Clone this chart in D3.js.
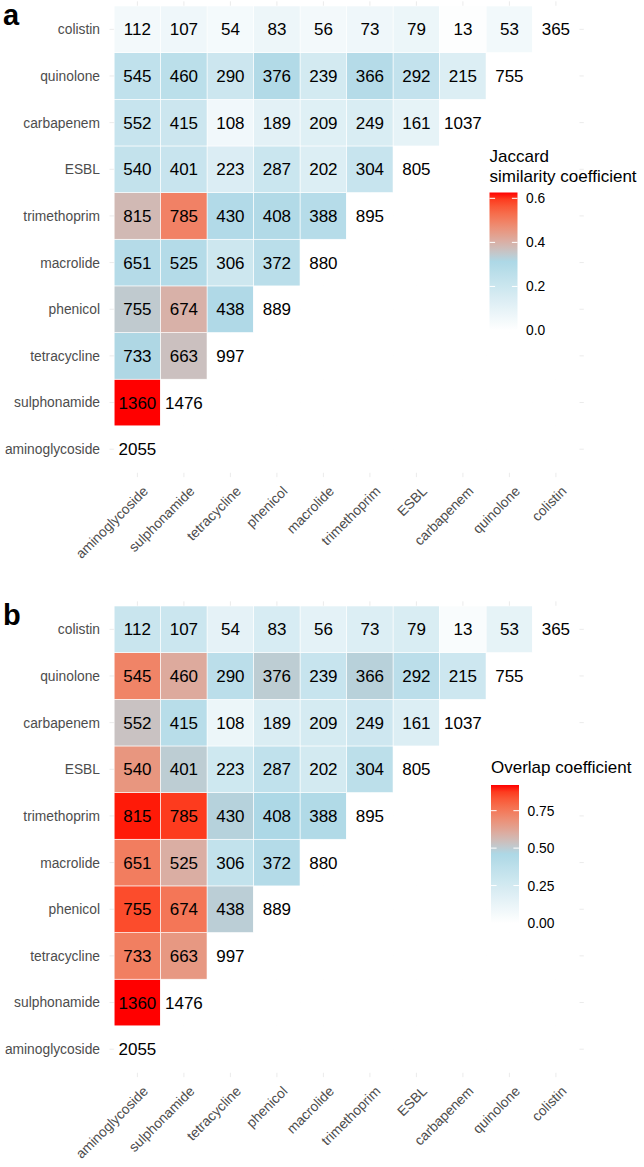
<!DOCTYPE html>
<html>
<head>
<meta charset="utf-8">
<script src="https://cdn.jsdelivr.net/npm/d3@7"></script>
<style>
  html, body { margin: 0; padding: 0; background: #fff; }
  svg { display: block; font-family: "Liberation Sans", Arial, Helvetica, sans-serif; }
</style>
</head>
<body>
<svg id="chart" width="644" height="1167"></svg>
<script>
// ---- data ----
const categories = ["aminoglycoside", "sulphonamide", "tetracycline", "phenicol", "macrolide",
                    "trimethoprim", "ESBL", "carbapenem", "quinolone", "colistin"];
// co-occurrence counts; each row lists columns from aminoglycoside up to the diagonal (total)
const rowAminoglycoside = [2055];
const rowSulphonamide   = [1360, 1476];
const rowTetracycline   = [733, 663, 997];
const rowPhenicol       = [755, 674, 438, 889];
const rowMacrolide      = [651, 525, 306, 372, 880];
const rowTrimethoprim   = [815, 785, 430, 408, 388, 895];
const rowESBL           = [540, 401, 223, 287, 202, 304, 805];
const rowCarbapenem     = [552, 415, 108, 189, 209, 249, 161, 1037];
const rowQuinolone      = [545, 460, 290, 376, 239, 366, 292, 215, 755];
const rowColistin       = [112, 107, 54, 83, 56, 73, 79, 13, 53, 365];
const jaccardTicks = [0, 0.2, 0.4, 0.6];
const overlapTicks = [0, 0.25, 0.5, 0.75];

const rows = [rowAminoglycoside, rowSulphonamide, rowTetracycline, rowPhenicol, rowMacrolide,
              rowTrimethoprim, rowESBL, rowCarbapenem, rowQuinolone, rowColistin];

const total = c => rows[categories.indexOf(c)][categories.indexOf(c)];
const cells = [];
categories.forEach((ry, j) => {
  categories.forEach((cx, i) => {
    const shown = i <= j;
    const n = shown ? rows[j][i] : null;
    let jac = 0, ovl = 0;
    if (i < j) {
      const a = total(cx), b = total(ry);
      jac = n / (a + b - n);
      ovl = n / Math.min(a, b);
    }
    cells.push({ col: cx, row: ry, n, shown, jac, ovl });
  });
});

const svg = d3.select("#chart");

const x = d3.scaleBand().domain(categories).range([114.15, 579.15]);
const yDom = categories.slice().reverse();

function drawPanel(offsetY, key, letter, titleLines, ticks, fmt, legendX, titleY, barTop) {
  const g = svg.append("g").attr("transform", `translate(0,${offsetY})`);
  const y = d3.scaleBand().domain(yDom).range([6, 472.5]);
  const maxV = d3.max(cells, d => d[key]);
  const color = d3.scaleLinear().domain([0, maxV / 2, maxV])
    .range(["#ffffff", "#add8e6", "#ff0000"]).interpolate(d3.interpolateLab);

  const exX = x.bandwidth() * 0.1, exY = y.bandwidth() * 0.1;
  const px0 = x.range()[0] - exX, px1 = x.range()[1] + exX;
  const py0 = y.range()[0] - exY, py1 = y.range()[1] + exY;

  // grid lines
  g.append("g").selectAll("line.v").data(categories).join("line")
    .attr("x1", d => x(d) + x.bandwidth() / 2).attr("x2", d => x(d) + x.bandwidth() / 2)
    .attr("y1", py0).attr("y2", py1).attr("stroke", "#ebebeb").attr("stroke-width", 1);
  g.append("g").selectAll("line.h").data(categories).join("line")
    .attr("y1", d => y(d) + y.bandwidth() / 2).attr("y2", d => y(d) + y.bandwidth() / 2)
    .attr("x1", px0).attr("x2", px1).attr("stroke", "#ebebeb").attr("stroke-width", 1);

  // tiles
  g.append("g").selectAll("rect").data(cells).join("rect")
    .attr("x", d => x(d.col)).attr("y", d => y(d.row))
    .attr("width", x.bandwidth()).attr("height", y.bandwidth())
    .attr("fill", d => color(d[key]))
    .attr("stroke", "#ffffff").attr("stroke-width", 0.6);

  // counts
  g.append("g").selectAll("text").data(cells.filter(d => d.shown)).join("text")
    .attr("x", d => x(d.col) + x.bandwidth() / 2)
    .attr("y", d => y(d.row) + y.bandwidth() / 2)
    .attr("dy", "0.36em").attr("text-anchor", "middle")
    .attr("font-size", 17).attr("fill", "#000")
    .text(d => d.n);

  // y axis labels
  g.append("g").selectAll("text").data(categories).join("text")
    .attr("x", 100).attr("y", d => y(d) + y.bandwidth() / 2)
    .attr("dy", "0.36em").attr("text-anchor", "end")
    .attr("font-size", 13.8).attr("fill", "#4d4d4d")
    .text(d => d);

  // x axis labels
  g.append("g").selectAll("text").data(categories).join("text")
    .attr("transform", d => `translate(${x(d) + x.bandwidth() / 2 + 4.5},${py1 + 8}) rotate(-45)`)
    .attr("dy", "0.71em").attr("text-anchor", "end")
    .attr("font-size", 13.8).attr("fill", "#4d4d4d")
    .text(d => d);

  // panel letter
  g.append("text").attr("x", 3).attr("y", 24.5)
    .attr("font-size", 29).attr("font-weight", "bold").attr("fill", "#000")
    .text(letter);

  // legend
  const lg = g.append("g");
  lg.selectAll("text.title").data(titleLines).join("text")
    .attr("x", legendX).attr("y", (d, i) => titleY + i * 20)
    .attr("font-size", 17).attr("fill", "#000").text(d => d);

  const barH = 138, barW = 28;
  const ly = d3.scaleLinear().domain([0, maxV]).range([barTop + barH, barTop]);
  const gradId = "grad-" + key;
  const grad = svg.append("defs").append("linearGradient").attr("id", gradId)
    .attr("x1", 0).attr("y1", 1).attr("x2", 0).attr("y2", 0);
  d3.range(0, 1.0001, 0.05).forEach(t => {
    grad.append("stop").attr("offset", t).attr("stop-color", color(t * maxV));
  });
  lg.append("rect").attr("x", legendX).attr("y", barTop)
    .attr("width", barW).attr("height", barH).attr("fill", `url(#${gradId})`);
  const tk = lg.append("g").selectAll("g").data(ticks).join("g");
  tk.append("line").attr("x1", legendX).attr("x2", legendX + barW / 5)
    .attr("y1", d => ly(d)).attr("y2", d => ly(d)).attr("stroke", "#fff").attr("stroke-width", 1);
  tk.append("line").attr("x1", legendX + barW - barW / 5).attr("x2", legendX + barW)
    .attr("y1", d => ly(d)).attr("y2", d => ly(d)).attr("stroke", "#fff").attr("stroke-width", 1);
  tk.append("text").attr("x", legendX + barW + 8.5).attr("y", d => ly(d))
    .attr("dy", "0.36em").attr("font-size", 13.8).attr("fill", "#000")
    .text(d => fmt(d));
}

drawPanel(0, "jac", "a", ["Jaccard", "similarity coefficient"], jaccardTicks, d3.format(".1f"), 489.5, 161.5, 192.5);
drawPanel(600, "ovl", "b", ["Overlap coefficient"], overlapTicks, d3.format(".2f"), 491, 173, 185);
</script>
</body>
</html>
